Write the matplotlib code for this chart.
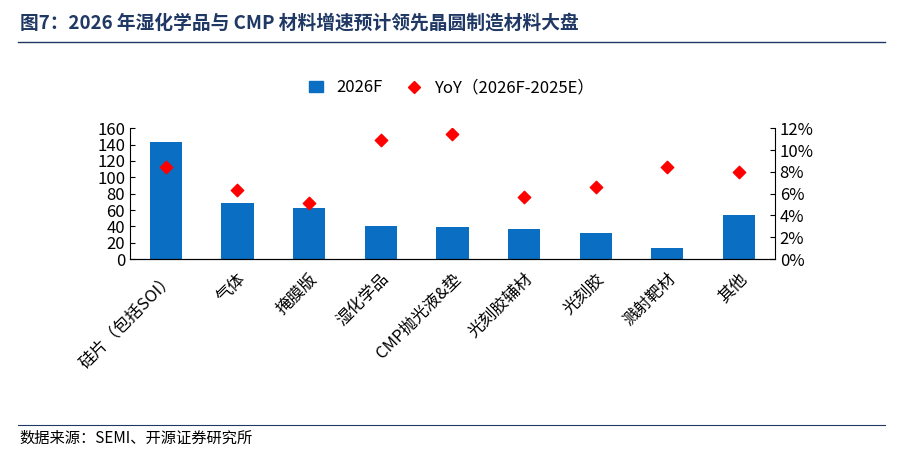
import matplotlib.pyplot as plt
from matplotlib.lines import Line2D

plt.rcParams['font.family'] = ['Noto Sans CJK SC', 'DejaVu Sans']

categories = ['硅片（包括SOI）', '气体', '掩膜版', '湿化学品', 'CMP抛光液&垫',
              '光刻胶辅材', '光刻胶', '溅射靶材', '其他']
sales_2026f = [143, 68, 62, 41, 39, 37, 32, 13, 54]
yoy = [8.4, 6.3, 5.1, 10.9, 11.5, 5.7, 6.6, 8.4, 8.0]

fig = plt.figure(figsize=(9.03, 4.53), dpi=100)
ax = fig.add_axes([0.144, 0.428, 0.714, 0.289])
x = range(len(categories))
ax.bar(x, sales_2026f, width=0.45, color='#0A6FC2', label='2026F')
ax.set_ylim(0, 160)
ax.set_yticks(range(0, 161, 20))
ax.set_xlim(-0.5, len(categories) - 0.5)
ax.set_xticks(list(x))
ax.set_xticklabels(categories, rotation=45, ha='right', rotation_mode='anchor', fontsize=12)
ax.tick_params(axis='y', labelsize=12, direction='in')
ax.tick_params(axis='x', length=0, pad=8)
for s in ['top', 'right']:
    ax.spines[s].set_visible(False)

ax2 = ax.twinx()
ax2.scatter(x, yoy, marker='D', s=40, color='#FF0000', zorder=3)
ax2.set_ylim(0, 12)
ax2.set_yticks(range(0, 13, 2))
ax2.set_yticklabels([f'{v}%' for v in range(0, 13, 2)])
ax2.tick_params(axis='y', labelsize=12, direction='in')
for s in ['top', 'left']:
    ax2.spines[s].set_visible(False)

handles = [plt.Rectangle((0, 0), 1, 1, color='#0A6FC2'),
           Line2D([], [], marker='D', color='#FF0000', linestyle='', markersize=6)]
fig.legend(handles, ['2026F', 'YoY（2026F-2025E）'], loc='center', bbox_to_anchor=(0.5, 0.806),
           ncol=2, frameon=False, fontsize=12, handlelength=0.8, columnspacing=1.5)

fig.text(0.022, 0.95, '图7：2026 年湿化学品与 CMP 材料增速预计领先晶圆制造材料大盘',
         fontsize=13.5, fontweight='bold', color='#1F3864', va='center')
fig.add_artist(Line2D([0.02, 0.98], [0.907, 0.907], color='#1F3864', lw=1))
fig.add_artist(Line2D([0.02, 0.98], [0.062, 0.062], color='#1F3864', lw=0.8))
fig.text(0.022, 0.033, '数据来源：SEMI、开源证券研究所', fontsize=11, va='center')

fig.savefig('out.png', dpi=100)
